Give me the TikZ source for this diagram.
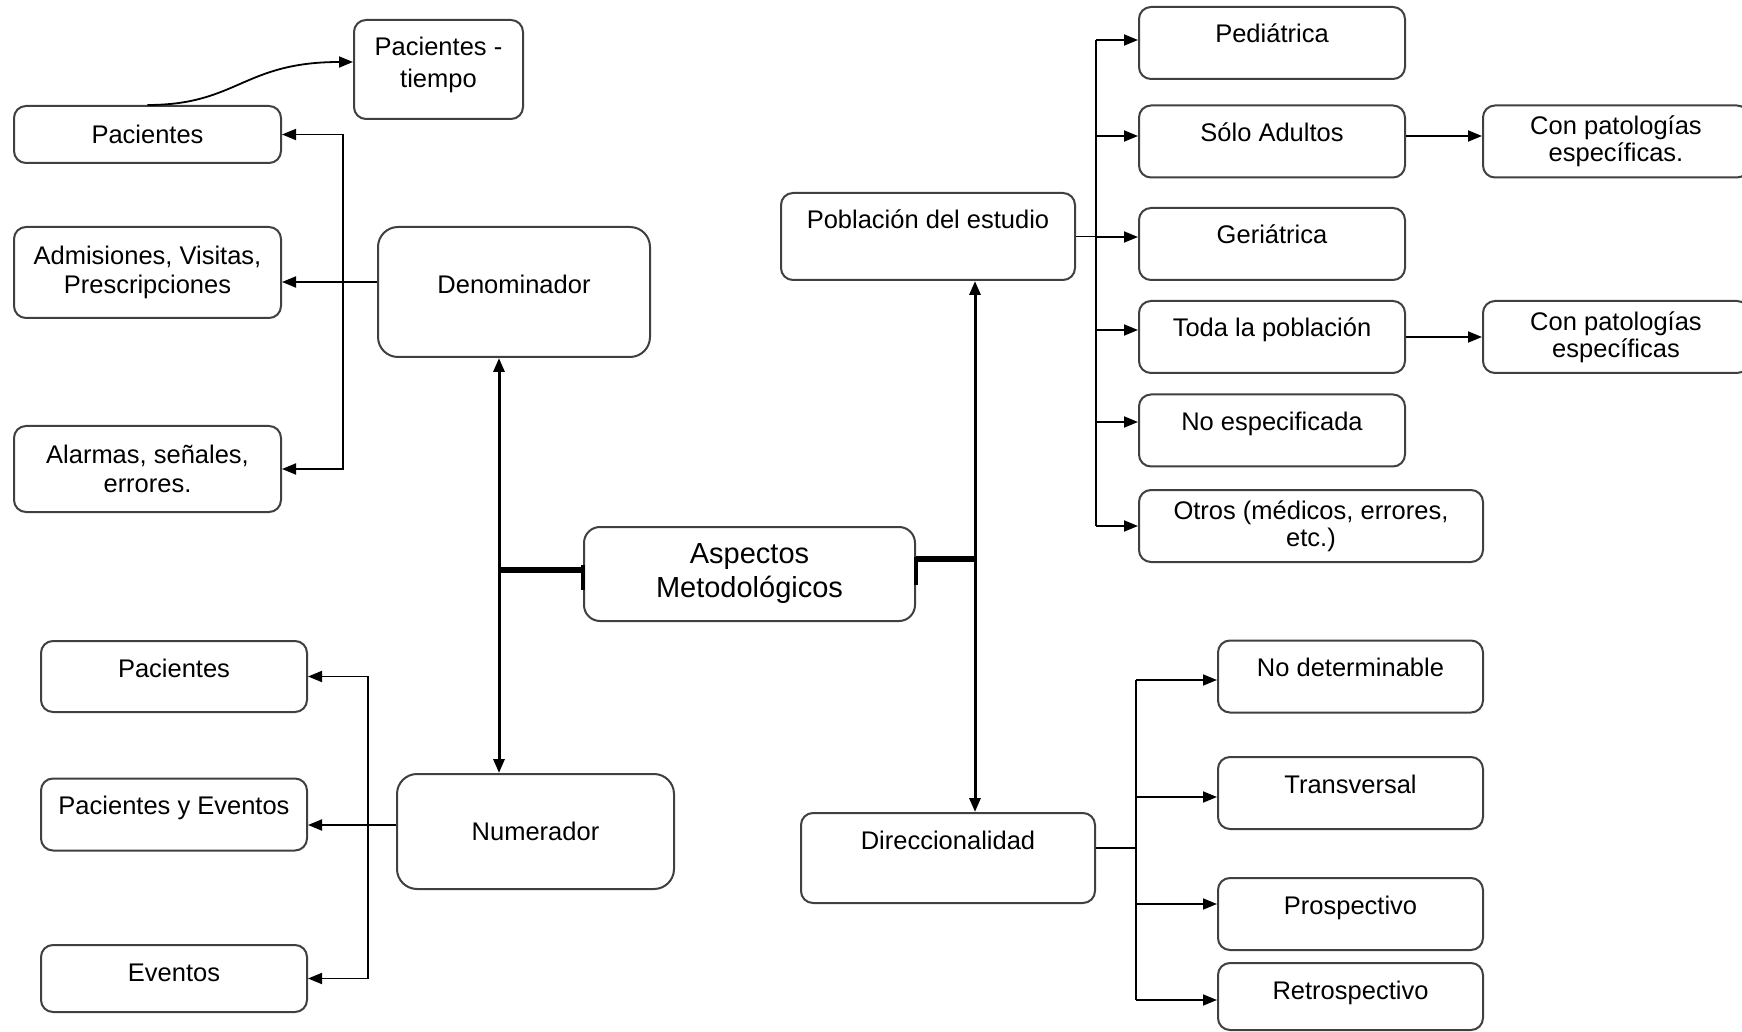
\documentclass[tikz,border=0pt]{standalone}
\usepackage{fontspec}
\setmainfont{Liberation Sans}
\usetikzlibrary{arrows.meta}

\tikzset{
  box/.style={draw=black!75, line width=1pt, rounded corners=6pt, align=center,
    inner sep=2pt, font=\fontsize{12.75}{14.5}\selectfont},
  topbox/.style={box, inner ysep=0pt, text height=18pt, text depth=#1},
  topbox/.default=18pt,
  link/.style={line width=0.9pt},
  mainlink/.style={line width=1.5pt},
  thicklink/.style={line width=3pt},
}

\begin{document}
\begin{tikzpicture}[x=0.5pt, y=-0.5pt, >={Triangle[length=7pt,width=5.5pt]}]
\fill[white] (0,0) rectangle (1742,1032);
\useasboundingbox (0,0) rectangle (1742,1032);

% denominador
\node[topbox=15.5pt, text height=34pt, minimum width=84.5pt, font=\fontsize{12.75}{16}\selectfont] (pactiempo) at (438.5,69.5) {Pacientes -\\tiempo};
\node[box, minimum width=133.5pt, minimum height=28.5pt] (dpac) at (147.5,134.5) {Pacientes};
\node[box, minimum width=133.5pt, minimum height=45.5pt] (dadm) at (147.5,272.5) {Admisiones, Visitas,\\Prescripciones};
\node[box, minimum width=133.5pt, minimum height=43pt] (dala) at (147.5,469) {Alarmas, señales,\\errores.};
\node[topbox=31.5pt, text height=33.5pt, rounded corners=10pt, minimum width=136pt] (den) at (514,292) {Denominador};

% centro
\node[box, rounded corners=8pt, minimum width=165.5pt, minimum height=47pt, font=\fontsize{14.5}{17}\selectfont] (asp) at (749.5,574) {Aspectos\\Metodológicos};

% poblacion
\node[topbox=25.5pt, minimum width=147pt] (pob) at (928,236.5) {Población del estudio};
\node[topbox, minimum width=133pt] (ped) at (1272,43) {Pediátrica};
\node[topbox, minimum width=133pt] (adu) at (1272,141.5) {Sólo Adultos};
\node[topbox, minimum width=133pt] (ger) at (1272,244) {Geriátrica};
\node[topbox, minimum width=133pt] (tod) at (1272,337) {Toda la población};
\node[topbox, minimum width=133pt] (noe) at (1272,430.5) {No especificada};
\node[box, minimum width=172pt, minimum height=36pt, font=\fontsize{12.75}{13.5}\selectfont] (otr) at (1311,526) {Otros (médicos, errores,\\etc.)};
\node[box, minimum width=133pt, minimum height=36pt, font=\fontsize{12.75}{13.5}\selectfont] (pat1) at (1616,141.5) {Con patologías\\específicas.};
\node[box, minimum width=133pt, minimum height=36pt, font=\fontsize{12.75}{13.5}\selectfont] (pat2) at (1616,337) {Con patologías\\específicas};

% numerador
\node[topbox=17.5pt, minimum width=133pt] (npac) at (174,676.5) {Pacientes};
\node[topbox, minimum width=133pt] (pye) at (174,814.5) {Pacientes y Eventos};
\node[topbox=15.5pt, minimum width=133pt] (eve) at (174,978.5) {Eventos};
\node[box, rounded corners=10pt, minimum width=138.5pt, minimum height=57.5pt] (num) at (535.5,831.5) {Numerador};

% direccionalidad
\node[topbox=27pt, minimum width=147pt] (dir) at (948,858) {Direccionalidad};
\node[topbox, minimum width=132.5pt] (ndt) at (1350.5,676.5) {No determinable};
\node[topbox, minimum width=132.5pt] (tra) at (1350.5,793) {Transversal};
\node[topbox, minimum width=132.5pt] (pro) at (1350.5,914) {Prospectivo};
\node[topbox=15.5pt, minimum width=132.5pt] (ret) at (1350.5,996.5) {Retrospectivo};

% conectores denominador
\draw[link,->] (dpac.north) .. controls +(90,0) and +(-110,0) .. ([yshift=3.75pt]pactiempo.west);
\coordinate (denL) at ([yshift=5pt]den.west);
\draw[link,->] (denL) -- (dadm.east |- denL);
\draw[link,<->] (dpac.east) -- ++(61,0) |- (dala.east);

% ejes centrales
\coordinate (lbus) at ([xshift=-7.5pt]den.south);
\coordinate (rbus) at ([xshift=23.5pt]pob.south);
\draw[mainlink,<->] (lbus) -- (lbus |- num.north);
\draw[mainlink,<->] (rbus) -- (rbus |- dir.north);
\coordinate (aspL) at ([yshift=2pt]asp.west);
\coordinate (aspR) at ([yshift=7.5pt]asp.east);
\draw[thicklink] (aspL) -- (aspL -| lbus);
\draw[thicklink] (aspR) -- (aspR -| rbus);
\draw[line width=2pt] ([yshift=4.5pt]asp.west) -- ([yshift=-8pt]asp.west);
\draw[line width=2pt] ([yshift=8.5pt]asp.east) -- ([yshift=-5.5pt]asp.east);

% conectores poblacion
\coordinate (pbus1) at ([xshift=-21pt,yshift=1.5pt]ped.west);
\coordinate (pbus2) at ([xshift=-21pt]otr.west);
\draw[link] (pob.east) -- (pob.east -| pbus1);
\draw[link] (pbus1) -- (pbus2);
\foreach \n/\s in {ped/1.5pt, adu/2.75pt, ger/3.5pt, tod/3.5pt, noe/4.25pt, otr/0pt}
	\draw[link,<-] ([yshift=\s]\n.west) -- ++(-42,0);
\draw[link,->] ([yshift=2.75pt]adu.east) -- ([yshift=2.75pt]pat1.west);
\draw[link,->] (tod.east) -- (pat2.west);

% conectores numerador
\coordinate (numL) at ([yshift=3.25pt]num.west);
\draw[link,->] (numL) -- (pye.east |- numL);
\draw[link,<->] (npac.east) -- ++(60,0) |- (eve.east);

% conectores direccionalidad
\coordinate (dbus1) at ([xshift=-40.5pt,yshift=-1.75pt]ndt.west);
\coordinate (dbus2) at ([xshift=-40.5pt,yshift=-1.75pt]ret.west);
\coordinate (dirR) at ([yshift=5pt]dir.east);
\draw[link] (dirR) -- (dirR -| dbus1);
\draw[link] (dbus1) -- (dbus2);
\foreach \n/\s in {ndt/-1.75pt, tra/-2pt, pro/5pt, ret/-1.75pt}
	\draw[link,<-] ([yshift=\s]\n.west) -- ++(-81,0);
\end{tikzpicture}
\end{document}
